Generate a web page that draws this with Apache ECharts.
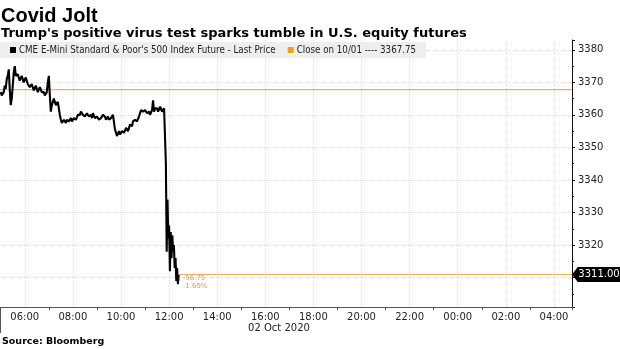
<!DOCTYPE html>
<html>
<head>
<meta charset="utf-8">
<script src="https://cdn.jsdelivr.net/npm/echarts@6/dist/echarts.min.js"></script>
<style>html,body{margin:0;padding:0;background:#fff}#c{width:620px;height:349px}</style>
</head>
<body>
<div id="c"></div>
<script>
const chartTitle = 'Covid Jolt';
const chartSubtitle = "Trump's positive virus test sparks tumble in U.S. equity futures";
const dateLabel = '02 Oct 2020';
const sourceLabel = 'Source: Bloomberg';
const seriesName = "CME E-Mini Standard & Poor's 500 Index Future - Last Price";
const closeDate = '10/01';
const closePrice = 3367.75;
const lastPrice = 3311.00;

// Before the drop: one price every 2.5 minutes from 05:00 to 11:50
const preStart = '05:00';
const preStepMinutes = 2.5;
const prePrices = [
 3367,3366, 3365.5,3367, 3369,3368, 3371,3372, 3374,3368, 3363,3365, 3369,3373, 3375,3372,
 3371.5,3372.5, 3372,3370.5, 3371,3372, 3371.5,3370,
 3370.5,3371.5, 3371,3369.5, 3369,3368.5, 3368,3369.5, 3369,3367.5, 3368,3369,
 3368.5,3367, 3367.5,3368.5, 3368,3367, 3366.5,3367, 3366,3365.5, 3367,3370,
 3372,3366, 3361,3363, 3364,3365, 3364.5,3363, 3363.5,3364, 3362,3360,
 3358.5,3357.5, 3357,3358.5, 3358,3357.5, 3358.5,3359, 3358,3358.5, 3359,3358,
 3358.5,3359, 3359.5,3358.5, 3359,3360, 3360.5,3360, 3361,3361.5, 3360,3360.5,
 3359.5,3359, 3360.5,3361, 3359.5,3360, 3360,3359, 3360.5,3360, 3359,3358.5,
 3359.5,3360, 3358.5,3359, 3359,3358.5, 3360,3359.5, 3359.5,3358.5, 3359,3359.5,
 3358.5,3358, 3359,3359.5, 3360,3359.5, 3355.5,3354.5, 3353.5,3354, 3355,3354,
 3354.5,3355, 3355.5,3354.5, 3355,3356, 3355.5,3355, 3356,3357, 3357,3356.5,
 3358,3357.5, 3358.5,3359, 3358,3357.5, 3359.5,3360, 3361.5,3362, 3361,3360.5,
 3361.5,3362, 3360.5,3361, 3361,3360, 3360.5,3361.5, 3364.5,3361, 3362,3362.5,
 3362,3361, 3361.5,3362.5, 3362,3361, 3361.5,3362, 3361.5
];
// The drop
const dropTimes = ['11:52','11:54','11:56','11:58','12:00','12:02','12:04','12:06','12:08','12:10',
                   '12:12','12:14','12:16','12:18','12:20','12:22','12:24'];
const dropPrices = [3345,3318,3334,3322,3326,3312,3324,3316,3323,3318,
                    3320,3313,3316,3309,3313,3308,3311];

const X_MIN = 4.97, X_MAX = 28.75;
const Y_MIN = 3301, Y_MAX = 3383;

function toHour(s){ const p = s.split(':'); return +p[0] + (+p[1]) / 60; }
const startHour = toHour(preStart);
const lineData = prePrices.map((v, i) => [startHour + i * preStepMinutes / 60, v])
  .concat(dropTimes.map((t, i) => [toHour(t), dropPrices[i]]));
const lastHour = toHour(dropTimes[dropTimes.length - 1]);
const change = lastPrice - closePrice;
const changePct = change / closePrice * 100;
const closeName = 'Close on ' + closeDate + ' ---- ' + closePrice.toFixed(2);

const orange = '#eab456';
const grid = { color: '#dedede', type: 'dotted', width: 1 };

const chart = echarts.init(document.getElementById('c'), null, { renderer: 'canvas' });
chart.setOption({
  animation: false,
  textStyle: { fontFamily: 'DejaVu Sans' },
  title: [
    { text: chartTitle, left: 1, top: 6, padding: 0,
      textStyle: { fontSize: 20, fontWeight: 'bold', fontFamily: 'Liberation Sans', color: '#000' } },
    { text: chartSubtitle, left: 1, top: 27, padding: 0,
      textStyle: { fontSize: 13, fontWeight: 'bold', fontFamily: 'DejaVu Sans', color: '#000' } },
    { text: dateLabel, left: 279, top: 323, padding: 0, textAlign: 'center',
      textStyle: { fontSize: 10, fontWeight: 'normal', fontFamily: 'DejaVu Sans', color: '#222' } },
    { text: sourceLabel, left: 2, top: 337, padding: 0,
      textStyle: { fontSize: 9.5, fontWeight: 'bold', fontFamily: 'DejaVu Sans', color: '#000' } }
  ],
  legend: {
    left: 0, top: 42, padding: [3, 10, 3, 10],
    backgroundColor: '#eeeeee',
    itemWidth: 6, itemHeight: 6, itemGap: 12,
    icon: 'rect',
    textStyle: { fontSize: 9.7, fontFamily: 'DejaVu Sans Condensed', color: '#222', padding: [0, 0, 0, -2] },
    data: [
      { name: seriesName, itemStyle: { color: '#000' } },
      { name: closeName, itemStyle: { color: '#f0a020' } }
    ]
  },
  grid: { left: 0, right: 48, top: 40, bottom: 42, containLabel: false },
  xAxis: [
    { type: 'value', min: X_MIN, max: X_MAX, splitNumber: 12, position: 'bottom',
      axisLine: { show: true, lineStyle: { color: '#555', width: 1 } },
      axisTick: { show: false },
      axisLabel: { fontSize: 10, color: '#222', margin: 5, showMinLabel: false, showMaxLabel: false,
        formatter: v => String(Math.round(v) % 24).padStart(2, '0') + ':00' },
      splitLine: { show: true, showMinLine: false, showMaxLine: false, lineStyle: grid } },
    { type: 'value', min: X_MIN - 1, max: X_MAX - 1, splitNumber: 12, position: 'bottom',
      axisLine: { show: false },
      axisTick: { show: true, length: 3, lineStyle: { color: '#555' } },
      axisLabel: { show: false }, splitLine: { show: false } }
  ],
  yAxis: {
    type: 'value', position: 'right', min: Y_MIN, max: Y_MAX, splitNumber: 8,
    axisLine: { show: true, lineStyle: { color: '#111', width: 1 } },
    axisTick: { show: true, inside: false, length: 3, lineStyle: { color: '#111' } },
    minorTick: { show: true, splitNumber: 2, length: 2, lineStyle: { color: '#111' } },
    axisLabel: { fontSize: 10, color: '#222', margin: 6, showMinLabel: false, showMaxLabel: false,
      formatter: v => (Math.abs(v - lastPrice) < 3 ? '' : String(v)) },
    splitLine: { show: true, showMinLine: false, showMaxLine: false, lineStyle: grid }
  },
  graphic: [
    { type: 'line', shape: { x1: 0.5, y1: 307, x2: 0.5, y2: 333 }, style: { stroke: '#555', lineWidth: 1 } }
  ],
  series: [
    { name: closeName, type: 'line', data: [[X_MIN, closePrice], [X_MAX, closePrice]],
      showSymbol: false, z: 1, silent: true,
      itemStyle: { color: orange }, lineStyle: { color: orange, width: 1.2 } },
    { name: seriesName, type: 'line', data: lineData, showSymbol: false, z: 3,
      itemStyle: { color: '#000' }, lineStyle: { color: '#000', width: 2.1 },
      markLine: { silent: true, symbol: ['none', 'none'],
        lineStyle: { color: orange, width: 1.2, type: 'solid' },
        data: [
          [{ coord: [lastHour, lastPrice],
             label: { show: true, position: 'insideStartBottom', distance: [4, 0],
               formatter: change.toFixed(2) + '\n' + changePct.toFixed(2) + '%',
               fontSize: 7, lineHeight: 8, color: '#d8a04a' } },
           { coord: [X_MAX, lastPrice] }]
        ] },
      markPoint: { silent: true,
        symbol: 'path://M0,7 L6,0 L50,0 L50,14 L6,14 Z', symbolSize: [48, 15], symbolKeepAspect: false,
        symbolOffset: [24, 0],
        itemStyle: { color: '#000' },
        label: { show: true, position: 'inside', offset: [3, 0], color: '#fff', fontSize: 10,
          formatter: lastPrice.toFixed(2) },
        data: [{ coord: [X_MAX, lastPrice] }] } }
  ]
});
</script>
</body>
</html>
